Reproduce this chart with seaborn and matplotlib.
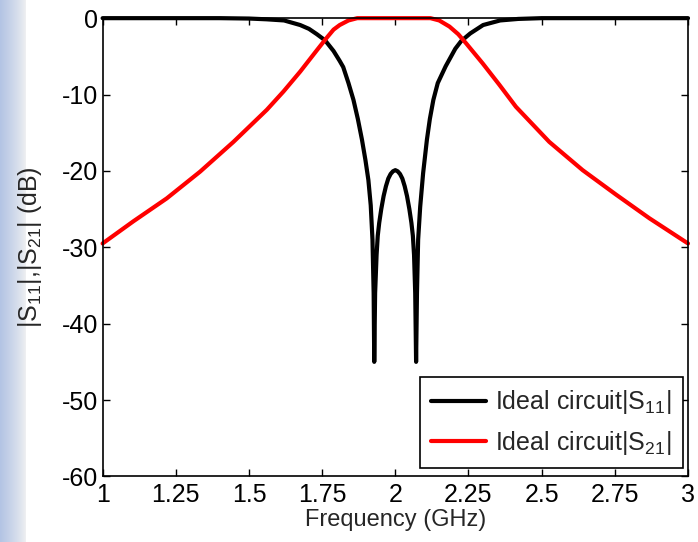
import numpy as np
import pandas as pd
import matplotlib
matplotlib.use("Agg")
import matplotlib.pyplot as plt
import seaborn as sns

# values
freq_s11 = [1.00, 1.40, 1.50, 1.56, 1.62, 1.675, 1.705, 1.732, 1.76, 1.789,
            1.81, 1.822, 1.84, 1.857, 1.872, 1.886, 1.898, 1.908, 1.916, 1.922,
            1.926, 1.928, 1.931, 1.936, 1.940, 1.945, 1.952, 1.960, 1.968, 1.976,
            1.984, 1.992, 2.000, 2.008, 2.016, 2.024, 2.032, 2.040, 2.048, 2.055,
            2.060, 2.064, 2.068, 2.071, 2.074, 2.078, 2.085, 2.095, 2.108, 2.118,
            2.130, 2.145, 2.172, 2.205, 2.225, 2.256, 2.300, 2.358, 2.420, 2.500,
            3.00]
s11_db = [0, 0, -0.05, -0.15, -0.3, -0.9, -1.4, -2.1, -2.9, -4.3,
          -5.6, -6.4, -8.5, -10.7, -13.2, -15.9, -18.6, -21.2, -24.5, -29,
          -36, -45, -36, -31, -28.5, -26.8, -25.0, -23.3, -22.0, -21.0,
          -20.4, -20.05, -19.9, -20.05, -20.4, -21.0, -22.0, -23.3, -25.0, -26.8,
          -28.5, -31, -36, -45, -36, -29, -24.7, -20.3, -15.9, -13.2,
          -10.7, -8.5, -6.3, -4.0, -3.0, -2.0, -0.9, -0.3, -0.1, 0,
          0]

freq_s21 = [1.0, 1.105, 1.219, 1.333, 1.447, 1.561, 1.618, 1.675, 1.732, 1.765,
            1.789, 1.81, 1.84, 1.87, 2.12, 2.15, 2.185, 2.215, 2.242, 2.298,
            2.355, 2.412, 2.526, 2.640, 2.754, 2.868, 3.0]
s21_db = [-29.5, -26.6, -23.6, -20.1, -16.2, -12.0, -9.6, -7.0, -4.2, -2.6,
          -1.5, -0.9, -0.3, 0, 0, -0.3, -1.1, -2.1, -3.3, -5.9,
          -8.7, -11.6, -16.2, -19.9, -23.1, -26.2, -29.5]

x_ticks = [1, 1.25, 1.5, 1.75, 2, 2.25, 2.5, 2.75, 3]
x_tick_labels = ["1", "1.25", "1.5", "1.75", "2", "2.25", "2.5", "2.75", "3"]
y_ticks = [-60, -50, -40, -30, -20, -10, 0]

label_s11 = r"Ideal circuit|S$_{11}$|"
label_s21 = r"Ideal circuit|S$_{21}$|"

df = pd.concat([
    pd.DataFrame({"freq": freq_s11, "db": s11_db, "trace": label_s11}),
    pd.DataFrame({"freq": freq_s21, "db": s21_db, "trace": label_s21}),
])

sns.set_style("ticks")
plt.rcParams["font.family"] = ["Liberation Sans", "DejaVu Sans"]
plt.rcParams["mathtext.fontset"] = "custom"
plt.rcParams["mathtext.rm"] = "Liberation Sans"
plt.rcParams["mathtext.it"] = "Liberation Sans:italic"
plt.rcParams["axes.unicode_minus"] = False

fig = plt.figure(figsize=(6.98, 5.42), dpi=100)

# faint blue slide background showing at the left edge
bg = fig.add_axes([0, 0, 0.036, 1], zorder=-1)
grad = np.linspace(1, 0, 64)[None, :] ** 0.8
bg.imshow(grad, aspect="auto", cmap=sns.light_palette("#b3c4e4", as_cmap=True),
          extent=[0, 1, 0, 1])
bg.axis("off")

ax = fig.add_axes([0.147, 0.121, 0.8387, 0.8455])

sns.lineplot(data=df, x="freq", y="db", hue="trace", sort=False,
             palette={label_s11: "black", label_s21: "red"},
             linewidth=3, estimator=None, ax=ax)
for ln in ax.lines:
    ln.set_clip_on(False)
    ln.set_solid_joinstyle("round")

ax.set_xlim(1, 3)
ax.set_ylim(-60, 0)
ax.set_xticks(x_ticks)
ax.set_xticklabels(x_tick_labels)
ax.set_yticks(y_ticks)
ax.tick_params(direction="in", length=5, width=1, top=True, right=True,
               labelsize=18, pad=3, colors="black")
ax.tick_params(axis="x", pad=5)
for sp in ax.spines.values():
    sp.set_visible(True)
    sp.set_linewidth(1.2)
    sp.set_color("black")

ax.set_xlabel("Frequency (GHz)", fontsize=17, labelpad=1)
ax.set_ylabel(r"|S$_{11}$|,|S$_{21}$| (dB)", fontsize=18, labelpad=13)

leg = ax.legend(loc="lower right", bbox_to_anchor=(0.991, 0.018),
                fontsize=18, frameon=True, fancybox=False, framealpha=1,
                edgecolor="black", handlelength=2.2, borderpad=0.45,
                labelspacing=0.5, handletextpad=0.35, borderaxespad=0)
leg.get_frame().set_linewidth(1.2)
for h in leg.get_lines():
    h.set_linewidth(3)

fig.savefig("out.png", dpi=100)
